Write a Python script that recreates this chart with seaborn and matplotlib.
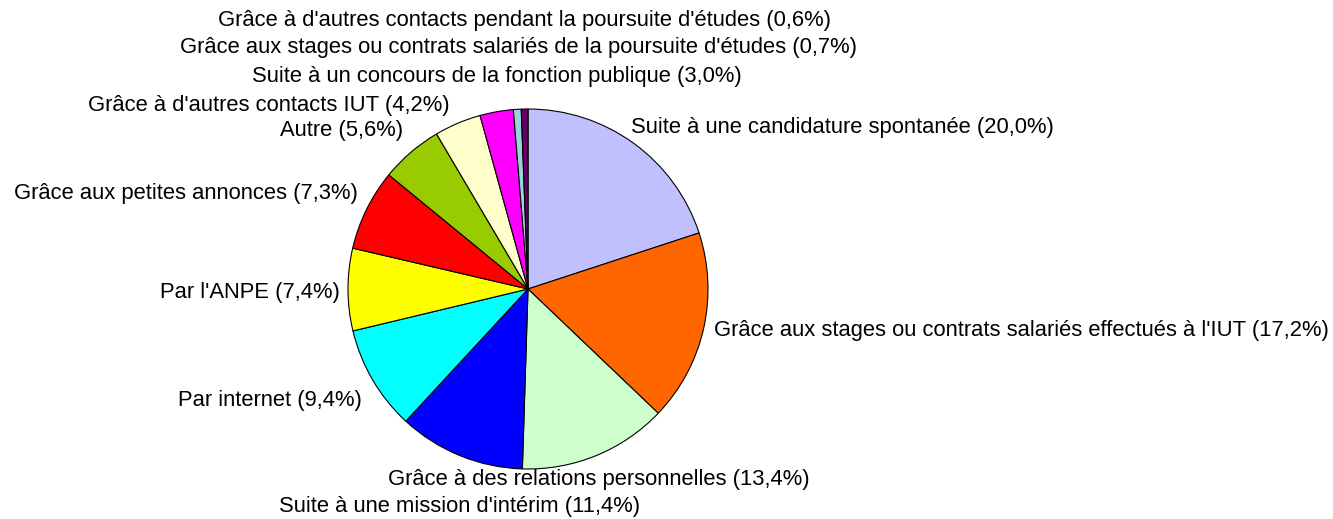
import matplotlib
matplotlib.use("Agg")
import matplotlib.pyplot as plt
import seaborn as sns

# share of respondents by way the job was found (%), clockwise from the top
categories = [
    "Suite à une candidature spontanée",
    "Grâce aux stages ou contrats salariés effectués à l'IUT",
    "Grâce à des relations personnelles",
    "Suite à une mission d'intérim",
    "Par internet",
    "Par l'ANPE",
    "Grâce aux petites annonces",
    "Autre",
    "Grâce à d'autres contacts IUT",
    "Suite à un concours de la fonction publique",
    "Grâce aux stages ou contrats salariés de la poursuite d'études",
    "Grâce à d'autres contacts pendant la poursuite d'études",
]
shares = [20.0, 17.2, 13.4, 11.4, 9.4, 7.4, 7.3, 5.6, 4.2, 3.0, 0.7, 0.6]

slice_colors = [
    "#C0C0FF", "#FF6600", "#CCFFCC", "#0000FF", "#00FFFF", "#FFFF00",
    "#FF0000", "#99CC00", "#FFFFCC", "#FF00FF", "#99D5DC", "#660066",
]

# label anchors in pie-radius units and alignment, placed like the spreadsheet output
label_layout = [
    (0.572, 0.90, "left"),
    (1.033, -0.228, "left"),
    (0.392, -1.061, "center"),
    (-0.378, -1.211, "center"),
    (-0.922, -0.617, "right"),
    (-1.044, -0.017, "right"),
    (-0.944, 0.533, "right"),
    (-0.694, 0.878, "right"),
    (-0.433, 1.022, "right"),
    (-0.172, 1.183, "center"),
    (-0.05, 1.344, "center"),
    (-0.017, 1.489, "center"),
]


def fmt_share(value: float) -> str:
    return f"({value:.1f}%)".replace(".", ",")


def main() -> None:
    sns.set_theme(style="white")
    plt.rcParams["font.family"] = ["Liberation Sans", "DejaVu Sans"]

    width_px, height_px = 1333, 519
    center_x, center_y, radius_px = 528, 289, 180

    fig = plt.figure(figsize=(width_px / 100, height_px / 100), dpi=100)
    ax = fig.add_axes([0, 0, 1, 1])
    ax.pie(
        shares,
        colors=slice_colors,
        startangle=90,
        counterclock=False,
        radius=1.0,
        wedgeprops={"edgecolor": "black", "linewidth": 0.8},
    )

    for name, value, (x, y, ha) in zip(categories, shares, label_layout, strict=True):
        ax.text(x, y, f"{name} {fmt_share(value)}", ha=ha, va="center",
                fontsize=15.8, color="black")

    ax.set_xlim(-center_x / radius_px, (width_px - center_x) / radius_px)
    ax.set_ylim(-(height_px - center_y) / radius_px, center_y / radius_px)
    ax.set_aspect("equal")
    ax.axis("off")

    fig.savefig("out.png", dpi=100, facecolor="white")
    plt.close(fig)


if __name__ == "__main__":
    main()
